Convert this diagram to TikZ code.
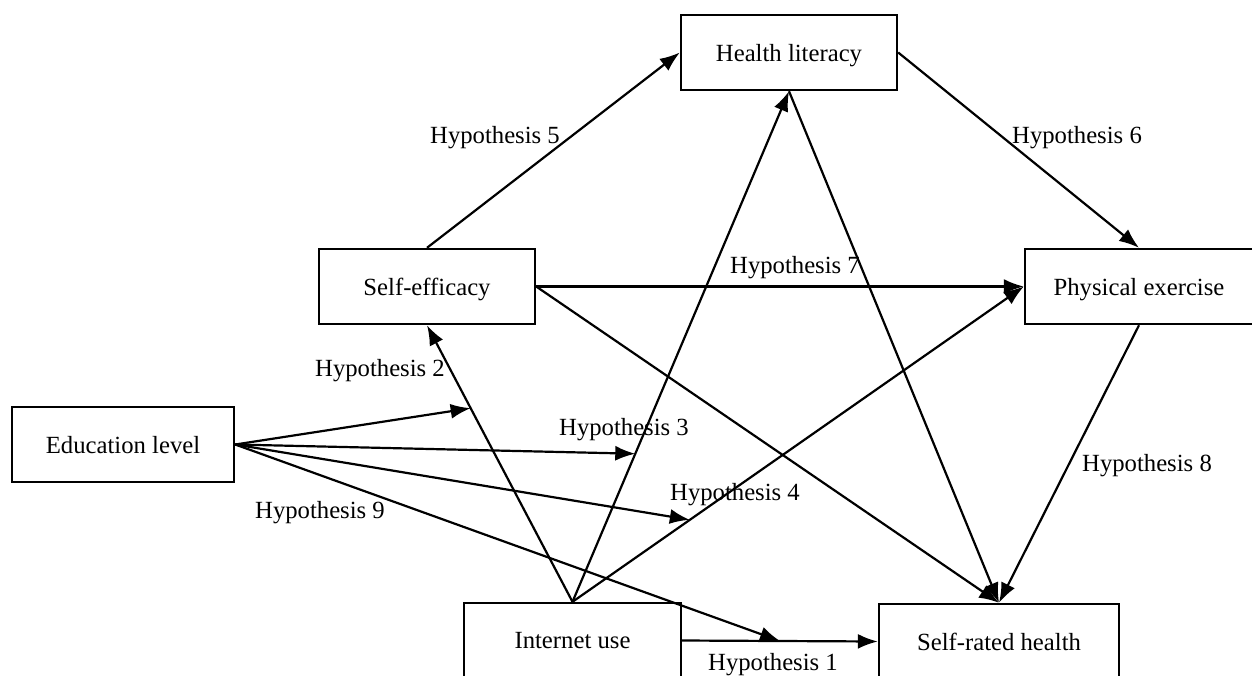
\documentclass[tikz,border=0pt]{standalone}
\usepackage{fontspec}
\setmainfont{Liberation Serif}
\usetikzlibrary{arrows.meta}
\begin{document}
\begin{tikzpicture}[x=1pt,y=-1pt,
  box/.style={draw,line width=2.4pt,minimum height=75pt,inner sep=0pt,text depth=0pt,font=\fontsize{24.7}{30}\selectfont},
  arr/.style={line width=2.2pt,-{Latex[length=20pt,width=15pt]}},
  lab/.style={font=\fontsize{24.7}{30}\selectfont,inner sep=0pt,text depth=0pt}]
\clip (0,0) rectangle (1252,675);
\node[box,minimum width=216pt] (hl) at (789,52.5) {Health literacy};
\node[box,minimum width=216pt] (se) at (427,286.5) {Self-efficacy};
\node[box,minimum width=228pt] (pe) at (1139,286.5) {Physical exercise};
\node[box,minimum width=222pt] (el) at (123,444.5) {Education level};
\node[box,minimum width=217pt] (iu) at (572.5,640.5) {Internet use};
\node[box,minimum width=240pt] (srh) at (999,641.5) {Self-rated health};

\draw[arr] (se.north) -- (hl.west);
\draw[arr] (hl.east) -- (pe.north);
\draw[arr] (se.east) -- (pe.west);
\draw[arr] (se.east) -- (srh.north);
\draw[arr] (hl.south) -- (srh.north);
\draw[arr] (pe.south) -- (srh.north);
\draw[arr] (iu.north) -- (se.south);
\draw[arr] (iu.north) -- (hl.south);
\draw[arr] (iu.north) -- (pe.west);
\draw[arr] (iu.east) -- (srh.west);

\path (iu.north) -- (se.south) coordinate[pos=0.70] (m2);
\path (iu.north) -- (hl.south) coordinate[pos=0.29] (m3);
\path (iu.north) -- (pe.west) coordinate[pos=0.26] (m4);
\path (iu.east) -- (srh.west) coordinate[pos=0.50] (m9);
\draw[arr] (el.east) -- (m2);
\draw[arr] (el.east) -- (m3);
\draw[arr] (el.east) -- (m4);
\draw[arr] (el.east) -- (m9);

\node[lab] (h5) at (495,135) {Hypothesis 5};
\node[lab] (h6) at (1077,135) {Hypothesis 6};
\node[lab] (h7) at (795,265) {Hypothesis 7};
\node[lab] (h2) at (380,368) {Hypothesis 2};
\node[lab] (h3) at (624,427) {Hypothesis 3};
\node[lab] (h4) at (735,492) {Hypothesis 4};
\node[lab] (h9) at (320,510) {Hypothesis 9};
\node[lab] (h8) at (1147,463) {Hypothesis 8};
\node[lab] (h1) at (773,662) {Hypothesis 1};
\end{tikzpicture}
\end{document}
